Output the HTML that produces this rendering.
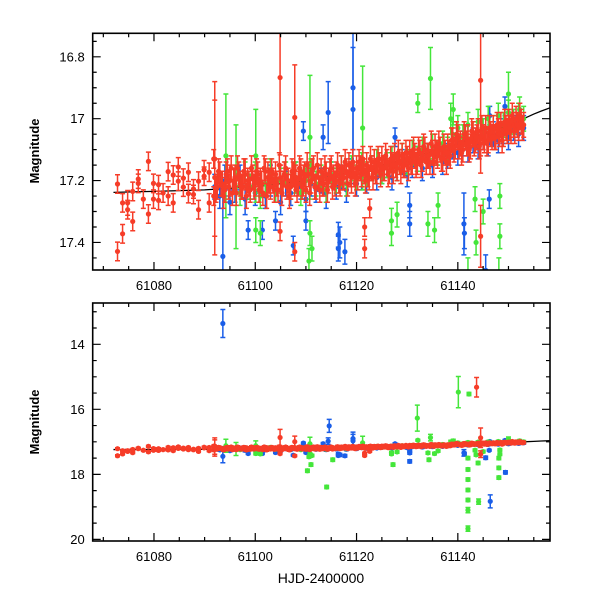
<!DOCTYPE html>
<html><head><meta charset="utf-8"><style>
html,body{margin:0;padding:0;background:#fff;width:600px;height:600px;overflow:hidden;position:relative}
svg{display:block;position:absolute;left:0;top:0}
text{font-family:"Liberation Sans",Arial,sans-serif;font-size:13px;fill:#000}
</style></head><body>
<svg id="chart" width="600" height="600" viewBox="0 0 600 600" xmlns="http://www.w3.org/2000/svg" overflow="hidden">
<defs>
<clipPath id="clipTop"><rect x="92.7" y="33.3" width="457.3" height="236.7"/></clipPath>
<clipPath id="clipBot"><rect x="92.7" y="303" width="457.3" height="238"/></clipPath>
</defs>
<g id="topPanel"></g>
<g id="botPanel"></g>
<text transform="translate(39,151) rotate(-90)" text-anchor="middle" font-weight="bold" style="font-size:13px">Magnitude</text>
<text transform="translate(39,422) rotate(-90)" text-anchor="middle" font-weight="bold" style="font-size:13px">Magnitude</text>
<text x="321" y="583" text-anchor="middle" style="font-size:14px">HJD-2400000</text>
</svg>
<script>
// ---- data ----
const redT=[61072.8,61072.8,61073.8,61073.8,61074.8,61074.8,61075.8,61075.8,61076.9,61076.9,61077.9,61078.9,61078.9,61079.9,61079.9,61080.9,61080.9,61081.8,61082.8,61082.8,61083.8,61083.8,61084.8,61084.8,61085.8,61085.8,61086.8,61086.8,61087.8,61087.8,61088.8,61088.8,61089.9,61089.9,61090.9,61090.9,61091.8,61091.8,
61092,61092.5,61093,61093.5,61094,61094.5,61095,61095.5,61096,61096.5,61097,61097.5,61098,61098.5,61099,61099.5,
61100,61100.5,61101,61101.5,61102,61102.5,61103,61103.5,61104,61104.5,61105,61105.5,61106,61106.5,61107,61107.5,
61108,61108.5,61109,61109.5,61110,61110.5,61111,61111.5,61112,61112.5,61113,61113.5,61114,61114.5,61115,61115.5,
61116,61116.5,61117,61117.5,61118,61118.5,61119,61119.5,61120,61120.5,61121,61121.5,61122,61122.5,61123,61123.5,
61124,61124.5,61125,61125.5,61126,61126.5,61127,61127.5,61128,61128.5,61129,61129.5,61130,61130.5,61131,61131.5,
61132,61132.5,61133,61133.5,61134,61134.5,61135,61135.5,61136,61136.5,61137,61137.5,61138,61138.5,
61139,61139.5,61140,61140.5,61141,61141.5,61142,61142.5,61143,61143.5,61144,61144.5,61145,61145.5,61146,61146.5,
61147,61147.5,61148,61148.5,61149,61149.5,61150,61150.5,61151,61151.5,61152,61152.5,61153,
61092.0,61104.9,61107.8,61104.9,61107.8,61121.6,61121.6,61122.6,61144.5,61144.5,61143.7];
const redM=[17.211,17.429,17.272,17.372,17.272,17.294,17.235,17.332,17.195,17.209,17.26,17.138,17.308,17.209,17.26,17.213,17.264,17.24,17.171,17.25,17.182,17.272,17.156,17.202,17.192,17.221,17.173,17.242,17.227,17.245,17.202,17.294,17.165,17.186,17.173,17.272,17.13,17.25,
17.19,17.22,17.18,17.21,17.23,17.17,17.20,17.24,17.19,17.16,17.21,17.22,17.18,17.20,17.23,17.19,
17.21,17.18,17.20,17.24,17.17,17.19,17.22,17.20,17.18,17.23,17.19,17.21,17.16,17.20,17.22,17.18,
17.19,17.21,17.17,17.20,17.23,17.18,17.20,17.16,17.22,17.19,17.17,17.21,17.18,17.20,17.16,17.19,
17.18,17.20,17.16,17.19,17.17,17.15,17.19,17.18,17.16,17.14,17.18,17.17,17.15,17.19,17.16,17.14,
17.17,17.15,17.13,17.16,17.14,17.17,17.15,17.12,17.16,17.14,17.12,17.15,17.13,17.11,17.14,17.12,
17.14,17.11,17.13,17.10,17.12,17.14,17.11,17.09,17.12,17.10,17.13,17.11,17.09,17.12,
17.07,17.09,17.06,17.08,17.10,17.06,17.07,17.09,17.05,17.07,17.04,17.08,17.06,17.03,17.07,17.05,
17.03,17.06,17.04,17.02,17.05,17.03,17.01,17.04,17.02,17.00,17.03,17.01,17.02,
17.13,16.867,16.996,17.364,17.43,17.35,17.42,17.29,16.876,17.38,15.32];
const redE=[0.03,0.03,0.03,0.03,0.04,0.03,0.03,0.03,0.03,0.03,0.03,0.03,0.03,0.03,0.03,0.03,0.03,0.03,0.03,0.03,0.03,0.03,0.03,0.03,0.03,0.03,0.03,0.03,0.03,0.03,0.03,0.03,0.03,0.03,0.03,0.03,0.03,0.03,
0.25,0.04,0.04,0.04,0.04,0.04,0.05,0.04,0.04,0.04,0.04,0.04,0.05,0.04,0.04,0.04,
0.04,0.04,0.04,0.04,0.04,0.05,0.04,0.04,0.04,0.04,0.04,0.04,0.04,0.04,0.04,0.04,
0.04,0.04,0.04,0.05,0.04,0.04,0.04,0.04,0.04,0.04,0.04,0.04,0.04,0.04,0.04,0.04,
0.04,0.04,0.04,0.04,0.04,0.04,0.05,0.04,0.04,0.04,0.04,0.04,0.04,0.04,0.04,0.04,
0.04,0.04,0.04,0.04,0.04,0.04,0.04,0.04,0.04,0.04,0.04,0.04,0.04,0.04,0.04,0.04,
0.04,0.04,0.04,0.04,0.04,0.04,0.04,0.04,0.04,0.04,0.04,0.04,0.04,0.04,
0.04,0.04,0.04,0.04,0.04,0.04,0.05,0.04,0.04,0.04,0.04,0.04,0.04,0.04,0.04,0.04,
0.04,0.04,0.04,0.04,0.04,0.04,0.04,0.04,0.04,0.04,0.04,0.04,0.04,
0.25,0.25,0.17,0.03,0.03,0.03,0.03,0.03,0.3,0.1,0.3];

const red2T=[61092.25,61092.75,61093.25,61093.75,61094.25,61094.75,61095.25,61095.75,61096.25,61096.75,61097.25,61097.75,61098.25,61098.75,61099.25,61099.75,
61100.25,61100.75,61101.25,61101.75,61102.25,61102.75,61103.25,61103.75,61104.25,61104.75,61105.25,61105.75,61106.25,61106.75,61107.25,61107.75,
61108.25,61108.75,61109.25,61109.75,61110.25,61110.75,61111.25,61111.75,61112.25,61112.75,61113.25,61113.75,61114.25,61114.75,61115.25,61115.75,
61116.25,61116.75,61117.25,61117.75,61118.25,61118.75,61119.25,61119.75,61120.25,61120.75,61121.25,61121.75,61122.25,61122.75,61123.25,61123.75,
61124.25,61124.75,61125.25,61125.75,61126.25,61126.75,61127.25,61127.75,61128.25,61128.75,61129.25,61129.75,61130.25,61130.75,61131.25,61131.75,
61132.25,61132.75,61133.25,61133.75,61134.25,61134.75,61135.25,61135.75,61136.25,61136.75,61137.25,61137.75,61138.25,61138.75,
61139.25,61139.75,61140.25,61140.75,61141.25,61141.75,61142.25,61142.75,61143.25,61143.75,61144.25,61144.75,61145.25,61145.75,61146.25,61146.75,
61147.25,61147.75,61148.25,61148.75,61149.25,61149.75,61150.25,61150.75,61151.25,61151.75,61152.25,61152.75];
const red2M=[17.23,17.17,17.21,17.25,17.18,17.22,17.16,17.20,17.24,17.18,17.22,17.17,17.25,17.21,17.16,17.22,
17.17,17.23,17.21,17.16,17.25,17.20,17.17,17.23,17.21,17.15,17.24,17.18,17.22,17.25,17.17,17.21,
17.23,17.16,17.22,17.18,17.15,17.24,17.17,17.22,17.15,17.23,17.21,17.16,17.23,17.17,17.22,17.21,
17.15,17.21,17.19,17.14,17.21,17.18,17.14,17.21,17.19,17.16,17.13,17.20,17.18,17.13,17.19,17.17,
17.13,17.18,17.16,17.12,17.18,17.13,17.17,17.15,17.11,17.17,17.15,17.11,17.16,17.14,17.10,17.15,
17.10,17.15,17.09,17.14,17.12,17.08,17.14,17.11,17.08,17.13,17.09,17.14,17.11,17.07,
17.10,17.05,17.09,17.11,17.05,17.08,17.10,17.04,17.08,17.06,17.09,17.03,17.07,17.08,17.03,17.06,
17.06,17.02,17.05,17.07,17.01,17.04,17.03,16.99,17.04,17.02,16.99,17.03];
const red2Err=0.04;

const blueT=[61092,61093,61094,61095,61096,61097,61098,61099,61100,61101,61102,61103,61104,61105,61106,61107,61108,61109,61110,61111,61112,61113,61114,61115,61116,61117,61118,61119,61120,61121,61122,61123,61124,61125,61126,61127,61128,61129,61130,61131,61132,61133,61134,61135,61136,61137,61138,61139,61140,61141,61142,61143,61144,61145,61146,61147,61148,61149,61150,61151,61152,61153,
61093.6,61093.6,61109.5,61113.4,61114.4,61098.6,61101.4,61104,61107.5,61110,61119.3,61119.3,61116.4,61116.4,61117.7,61127.6,61130.5,61130.5,61141.2,61146.2,61146.3,61149.3,
61114.6,61116.7,61130.5,61141.3,61145.5,61146.4,61149.4];
const blueM=[17.22,17.25,17.20,17.27,17.23,17.19,17.26,17.22,17.24,17.21,17.25,17.20,17.23,17.27,17.21,17.24,17.19,17.22,17.26,17.21,17.23,17.20,17.24,17.18,17.22,17.19,17.23,17.17,17.21,17.18,17.20,17.16,17.19,17.17,17.15,17.19,17.16,17.14,17.18,17.15,17.13,17.16,17.12,17.15,17.11,17.14,17.12,17.09,17.11,17.08,17.10,17.07,17.09,17.06,17.08,17.05,17.07,17.04,17.06,17.03,17.05,17.03,
17.445,13.36,17.04,17.06,16.98,17.36,17.36,17.33,17.41,17.33,16.90,16.97,17.375,17.42,17.43,17.06,17.28,17.34,17.34,17.26,16.99,16.96,
16.51,17.40,17.6,17.37,17.49,18.83,17.94];
const blueE=[0.04,0.04,0.05,0.04,0.04,0.04,0.05,0.04,0.04,0.04,0.04,0.05,0.04,0.04,0.04,0.04,0.05,0.04,0.04,0.04,0.04,0.04,0.05,0.04,0.04,0.04,0.04,0.04,0.04,0.05,0.04,0.04,0.04,0.04,0.04,0.04,0.04,0.04,0.04,0.04,0.04,0.04,0.04,0.04,0.04,0.04,0.04,0.04,0.04,0.04,0.04,0.04,0.04,0.04,0.04,0.04,0.04,0.04,0.04,0.04,0.04,0.04,
0.2,0.43,0.03,0.04,0.1,0.03,0.03,0.03,0.03,0.03,0.2,0.2,0.04,0.04,0.04,0.03,0.04,0.04,0.1,0.03,0.03,0.03,
0.2,0.05,0.05,0.05,0.05,0.2,0.05];

const greenT=[61096,61097,61098,61099,61100,61101,61102,61103,61104,61105,61106,61107,61108,61109,61110,61111,61112,61113,61114,61115,61116,61117,61118,61119,61120,61121,61122,61123,61124,61125,61126,61127,61128,61129,61130,61131,61132,61133,61134,61135,61136,61137,61138,61139,61140,61141,61142,61143,61144,61145,61146,61147,61148,61149,61150,61151,61152,61153,
61094.2,61096.2,61100.1,61100.1,61101,61110.8,61110.8,61111.2,61110.6,61121.2,61126.9,61126.9,61128,61134.1,61134.6,61132.1,61136.1,61135.4,61139.1,61138.6,61143.4,61143.6,61145,61148.3,61148.3,61150,61152.2,
61110.3,61111,61114.1,61115.3,61127.2,61132,61134.3,61140.1,61142.2,61142,61142,61142,61142,61142,61142,61142,61144.1,61144,61148.1,61148.1,61148.1];
const greenM=[17.20,17.24,17.18,17.22,17.19,17.25,17.21,17.17,17.23,17.20,17.18,17.22,17.19,17.24,17.20,17.17,17.21,17.19,17.23,17.18,17.20,17.17,17.21,17.16,17.19,17.15,17.18,17.16,17.14,17.17,17.15,17.13,17.16,17.12,17.14,17.11,17.13,17.10,17.12,17.09,17.11,17.08,17.10,17.05,17.03,17.06,17.02,17.05,17.01,17.04,17.00,17.03,16.99,17.02,16.98,17.01,16.99,17.00,
17.12,17.22,17.12,17.36,17.37,17.06,17.37,17.42,17.46,17.03,17.33,17.37,17.31,17.34,16.87,16.95,17.28,17.36,16.97,17.00,17.26,17.40,17.30,17.25,17.38,16.92,16.97,
17.89,17.7,18.39,17.55,17.7,16.27,17.55,15.47,15.53,17.5,17.85,18.16,18.48,18.79,19.1,19.67,18.84,17.65,17.5,17.8,18.1];
const greenE=[0.04,0.04,0.04,0.04,0.05,0.04,0.04,0.04,0.04,0.04,0.04,0.04,0.05,0.04,0.04,0.04,0.04,0.04,0.04,0.04,0.04,0.05,0.04,0.04,0.04,0.04,0.04,0.04,0.04,0.04,0.04,0.04,0.04,0.04,0.04,0.04,0.04,0.04,0.04,0.04,0.04,0.04,0.04,0.04,0.04,0.04,0.04,0.04,0.04,0.04,0.04,0.04,0.04,0.04,0.04,0.04,0.04,0.04,
0.2,0.2,0.15,0.04,0.04,0.2,0.04,0.04,0.04,0.2,0.04,0.04,0.04,0.04,0.1,0.03,0.04,0.04,0.05,0.05,0.04,0.04,0.04,0.04,0.04,0.07,0.04,
0.05,0.05,0.05,0.05,0.05,0.4,0.05,0.48,0.05,0.05,0.05,0.05,0.05,0.05,0.08,0.08,0.08,0.05,0.05,0.05,0.05];

const modelT=[61072,61080,61090,61100,61110,61120,61130,61140,61145,61150,61153,61155,61156.5,61158.2];
const modelM=[17.238,17.235,17.23,17.22,17.2,17.17,17.13,17.08,17.05,17.02,17.0,16.985,16.975,16.965];

const xTicksMajor=[61080,61100,61120,61140];
const topYLabels=[16.8,17,17.2,17.4];
const botYLabels=[14,16,18,20];

// ---- axes ----
const X0=92.7,X1=550,TMIN=61067.9,TMAX=61158.2;
function xs(t){return X0+(t-TMIN)/(TMAX-TMIN)*(X1-X0);}
const TOP={y0:33.3,y1:270,mmin:16.724,mmax:17.489};
const BOT={y0:303,y1:541,mmin:12.73,mmax:20.05};
function ys(p,m){return p.y0+(m-p.mmin)/(p.mmax-p.mmin)*(p.y1-p.y0);}

const NS="http://www.w3.org/2000/svg";
function el(tag,attrs,parent){const e=document.createElementNS(NS,tag);for(const k in attrs)e.setAttribute(k,attrs[k]);parent.appendChild(e);return e;}

function drawSeries(g,p,T,M,E,color,name){
  const sg=el('g',{},g);
  
  
  for(let i=0;i<T.length;i++){
    const e=Array.isArray(E)?E[i]:E;
    const x=xs(T[i]),y=ys(p,M[i]);
    const ya=ys(p,M[i]-e),yb=ys(p,M[i]+e);
    const eb=el('path',{d:`M${x} ${ya}V${yb}M${x-2.5} ${ya}H${x+2.5}M${x-2.5} ${yb}H${x+2.5}`,stroke:color,'stroke-width':1.5,fill:'none'},sg);
    
    
    const c=el('circle',{cx:x,cy:y,r:2.6,fill:color},sg);
    
    
  }
}

function drawPanel(g,p,clip,yLabels,yMinor,yMajor,showXLabels){
  const dg=el('g',{'clip-path':`url(#${clip})`},g);
  let d='';
  for(let i=0;i<modelT.length;i++)d+=(i?'L':'M')+xs(modelT[i])+' '+ys(p,modelM[i]);
  const ln=el('path',{d:d,stroke:'#000','stroke-width':1.3,fill:'none'},dg);
  
  
  drawSeries(dg,p,blueT,blueM,blueE,'#1a5ee8','blue-series');
  drawSeries(dg,p,greenT,greenM,greenE,'#44e63a','green-series');
  drawSeries(dg,p,redT,redM,redE,'#f63c28','red-series');
  drawSeries(dg,p,red2T,red2M,red2Err,'#f63c28','red-series-dense');
  const fr=el('rect',{x:X0,y:p.y0,width:X1-X0,height:p.y1-p.y0,fill:'none',stroke:'#000','stroke-width':1.6},g);
  
  
  let td='';
  for(let t=61070;t<=TMAX;t+=5){
    const x=xs(t);const L=(t%20===0)?8:4;
    td+=`M${x} ${p.y1}V${p.y1-L}M${x} ${p.y0}V${p.y0+L}`;
  }
  const n0=Math.ceil(p.mmin/yMinor-1e-6),n1=Math.floor(p.mmax/yMinor+1e-6);
  for(let n=n0;n<=n1;n++){
    const m=n*yMinor;const y=ys(p,m);
    const maj=Math.abs(m/yMajor-Math.round(m/yMajor))<1e-6;const L=maj?8:4;
    td+=`M${X0} ${y}H${X0+L}M${X1} ${y}H${X1-L}`;
  }
  const tk=el('path',{d:td,stroke:'#000','stroke-width':1.2,fill:'none'},g);
  
  
  yLabels.forEach(v=>{
    const tx=el('text',{x:X0-8,y:ys(p,v)+4.5,'text-anchor':'end'},g);
    tx.textContent=String(v);
    
    
  });
  if(showXLabels){
    xTicksMajor.forEach(v=>{
      const tx=el('text',{x:xs(v),y:p.y1+20,'text-anchor':'middle'},g);
      tx.textContent=String(v);
      
      
    });
  }
}
drawPanel(document.getElementById('topPanel'),TOP,'clipTop',topYLabels,0.05,0.2,true);
drawPanel(document.getElementById('botPanel'),BOT,'clipBot',botYLabels,0.5,2,true);
</script>
</body></html>
